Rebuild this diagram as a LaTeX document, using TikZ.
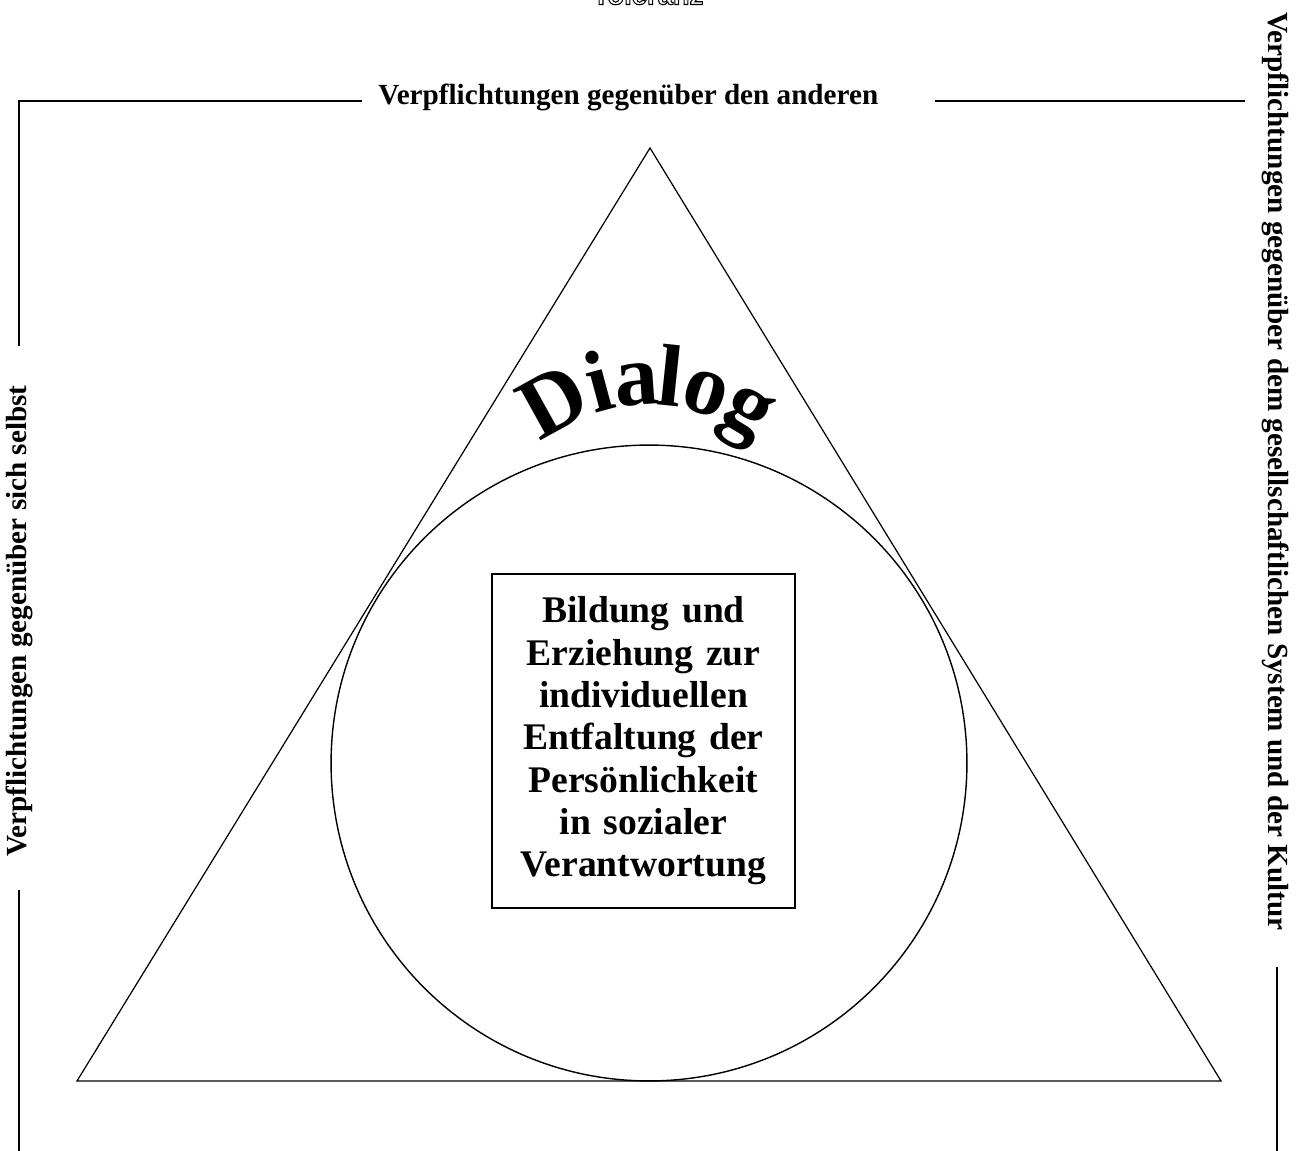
\documentclass[tikz,border=0pt]{standalone}
\usepackage{fontspec}
\setmainfont{Liberation Serif}
\setsansfont{Liberation Sans}
\usetikzlibrary{positioning}

\begin{document}
\begin{tikzpicture}[
  x=0.02cm, y=0.02cm,
  frame/.style={line width=1.1pt},
  outline/.style={line width=0.7pt},
  side label/.style={font=\fontsize{16.6}{19}\selectfont\bfseries,inner sep=0pt},
  arch letter/.style={font=\fontsize{50}{52}\selectfont\bfseries,inner sep=0pt,anchor=base},
  core/.style={draw,line width=0.8pt,minimum width=6.06cm,minimum height=6.68cm,
    text width=5.6cm,align=center,font=\fontsize{21.4}{24.1}\selectfont\bfseries,inner sep=0pt}
]
\useasboundingbox (0,0) rectangle (1301,-1151);
% word cut off at the top edge
\node[anchor=base,inner sep=0pt,font=\sffamily\bfseries\fontsize{15.6}{18}\selectfont] (tolerance) at (648,-4.5)
  {\special{pdf:literal direct 1 Tr 0.6 w}Toleranz\special{pdf:literal direct 0 Tr}};
% frame labels
\node[side label,anchor=base west] (others) at (378,-105) {Verpflichtungen gegenüber den anderen};
\node[side label,rotate=90,anchor=base west] (self) at (27,-857) {Verpflichtungen gegenüber sich selbst};
\node[side label,rotate=-90,anchor=base west] (society) at (1268,-12) {Verpflichtungen gegenüber dem gesellschaftlichen System und der Kultur};
% frame
\coordinate (tl) at (19,-101);
\coordinate (topa) at (362,-101);
\coordinate (topb) at (935,-101);
\coordinate (topc) at (1245,-101);
\coordinate (lefta) at (19,-346);
\coordinate (leftb) at (19,-890);
\coordinate (leftc) at (19,-1151);
\coordinate (righta) at (1277,-967);
\coordinate (rightb) at (1277,-1151);
\draw[frame] (lefta) -- (tl) -- (topa);
\draw[frame] (topb) -- (topc);
\draw[frame] (leftb) -- (leftc);
\draw[frame] (righta) -- (rightb);
% triangle with inscribed circle
\coordinate (apex) at (650,-148);
\coordinate (baseleft) at (77,-1081);
\coordinate (baseright) at (1221,-1081);
\draw[outline] (apex) -- (baseright) -- (baseleft) -- cycle;
\node[draw,circle,line width=0.8pt,minimum size=12.72cm,inner sep=0pt] (ring) at (649,-763) {};
\node[core] (goal) at (643.5,-741) {Bildung und\\Erziehung zur\\individuellen\\Entfaltung der\\Persönlichkeit\\in sozialer\\Verantwortung};
% arched word, one letter at a time
\coordinate (archc) at (650,-575);
\foreach \ch/\ang in {D/29,i/15,a/4,l/-6,o/-17,g/-31}
  \path (archc) ++(90+\ang:3.4cm) node[arch letter,rotate=\ang] (dialog-\ch) {\ch};
\end{tikzpicture}
\end{document}
